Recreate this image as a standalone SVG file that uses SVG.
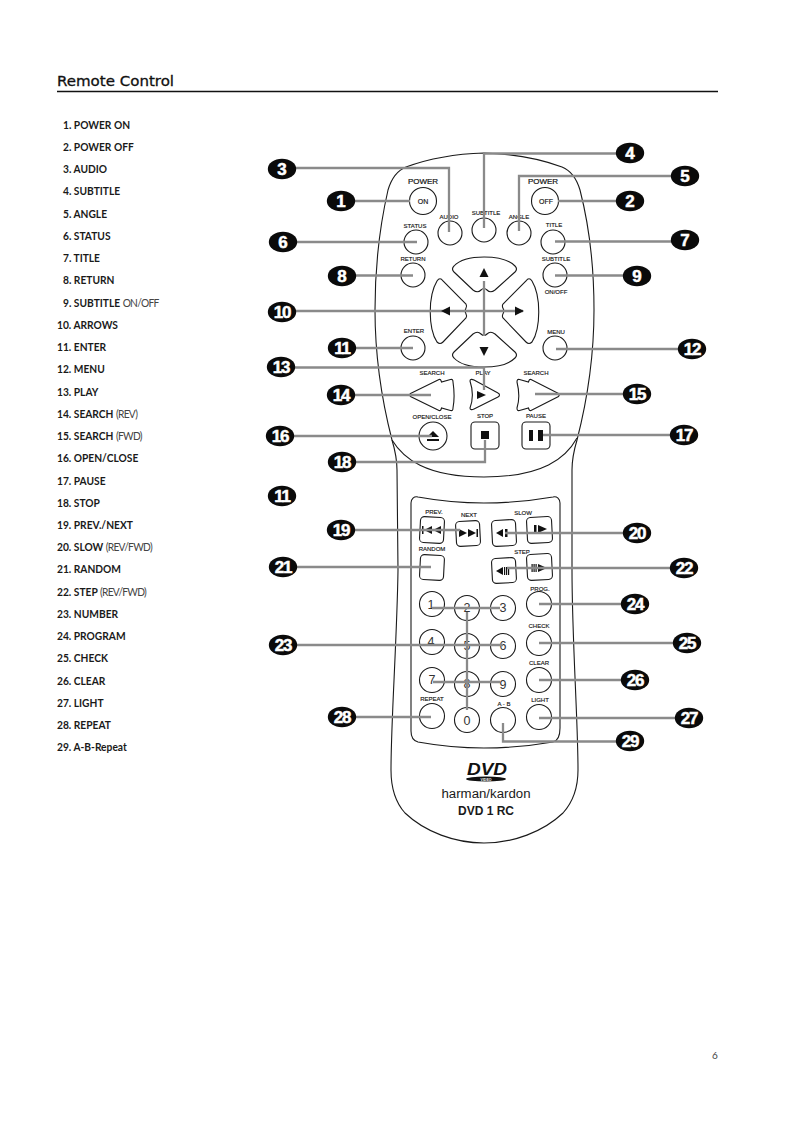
<svg xmlns="http://www.w3.org/2000/svg" width="793" height="1122" viewBox="0 0 793 1122">
<style>
.o{fill:#fff;stroke:#1a1a1a;stroke-width:1.1}
.b{fill:#111}
.l{font-family:"Liberation Sans",Arial,sans-serif;font-size:6px;fill:#111;text-anchor:middle;stroke:#111;stroke-width:.15}
.p{font-size:8px;stroke-width:.2}
.d{font-family:"Liberation Sans",Arial,sans-serif;font-size:12.5px;fill:#333;text-anchor:middle}
.c{fill:none;stroke:#8a8a8a;stroke-width:2.3}
.n{font-family:"Liberation Sans",Arial,sans-serif;font-size:17px;font-weight:bold;fill:#fff;stroke:#fff;stroke-width:.5;text-anchor:middle}
.t{font-family:Lato,"Noto Sans",sans-serif;font-size:11.5px;font-weight:bold;fill:#1a1a1a}
.r{font-weight:normal;fill:#444;letter-spacing:-.8px}
</style>
<defs>
<ellipse id="bd" rx="14.2" ry="10.2" fill="#0a0a0a"/>
</defs>
<rect width="793" height="1122" fill="#fff"/>
<g id="heading">
<text x="57" y="86" font-family="DejaVu Sans,sans-serif" font-size="14.5" fill="#111" stroke="#111" stroke-width=".3" textLength="117" lengthAdjust="spacingAndGlyphs">Remote Control</text>
<line x1="57" y1="91.500" x2="718" y2="91.500" stroke="#111" stroke-width="1.4"/>
</g>
<g id="legend" transform="translate(57 0) scale(.89 1) translate(-57 0)">
<text class="t" x="63.700" y="129">1. POWER ON</text>
<text class="t" x="63.700" y="151">2. POWER OFF</text>
<text class="t" x="63.700" y="173">3. AUDIO</text>
<text class="t" x="63.700" y="195">4. SUBTITLE</text>
<text class="t" x="63.700" y="218">5. ANGLE</text>
<text class="t" x="63.700" y="240">6. STATUS</text>
<text class="t" x="63.700" y="262">7. TITLE</text>
<text class="t" x="63.700" y="284">8. RETURN</text>
<text class="t" x="63.700" y="307">9. SUBTITLE <tspan class="r">ON/OFF</tspan></text>
<text class="t" x="57" y="329">10. ARROWS</text>
<text class="t" x="57" y="351">11. ENTER</text>
<text class="t" x="57" y="373">12. MENU</text>
<text class="t" x="57" y="396">13. PLAY</text>
<text class="t" x="57" y="418">14. SEARCH <tspan class="r">(REV)</tspan></text>
<text class="t" x="57" y="440">15. SEARCH <tspan class="r">(FWD)</tspan></text>
<text class="t" x="57" y="462">16. OPEN/CLOSE</text>
<text class="t" x="57" y="485">17. PAUSE</text>
<text class="t" x="57" y="507">18. STOP</text>
<text class="t" x="57" y="529">19. PREV./NEXT</text>
<text class="t" x="57" y="551">20. SLOW <tspan class="r">(REV/FWD)</tspan></text>
<text class="t" x="57" y="573">21. RANDOM</text>
<text class="t" x="57" y="596">22. STEP <tspan class="r">(REV/FWD)</tspan></text>
<text class="t" x="57" y="618">23. NUMBER</text>
<text class="t" x="57" y="640">24. PROGRAM</text>
<text class="t" x="57" y="662">25. CHECK</text>
<text class="t" x="57" y="685">26. CLEAR</text>
<text class="t" x="57" y="707">27. LIGHT</text>
<text class="t" x="57" y="729">28. REPEAT</text>
<text class="t" x="57" y="751">29. A-B-Repeat</text>
</g>
<g id="remote-body">
<path class="o" d="M484 153C450 154 425 160 406 167C396 171 391 180 388 190C380 225 375 270 375 310C375 360 383 405 392 440C395 450 397 458 397 470L398 570C397 640 391 720 391 770C391 790 396 803 405 813C425 832 455 843 484 843C513 843 543 832 563 813C572 803 578 790 578 770C578 720 572 640 572 570L572 470C572 458 574 450 577 440C586 405 594 360 594 310C594 270 589 225 580 190C577 180 572 171 562 167C543 160 518 154 484 153Z"/>
<path class="o" d="M392 440C403 458 425 477 484 477C543 477 566 458 577 438" style="fill:none"/>
<path class="o" d="M418 497C440 501 460 503 484 503C508 503 530 501 553 497C557 496 560 499 560 503L560 728C560 736 557 741 553 742C530 746 508 748 484 748C460 748 440 746 418 742C414 741 411 737 411 731L411 503C411 499 414 496 418 497Z"/>
</g>
<g id="btn-power-on"><circle class="o" cx="423" cy="201" r="13.500"/><text class="l p" x="423" y="184">POWER</text><text class="l" x="423" y="203.500" style="font-size:7px">ON</text></g>
<g id="btn-power-off"><circle class="o" cx="545" cy="201" r="13.500"/><text class="l p" x="543" y="184">POWER</text><text class="l" x="546" y="203.500" style="font-size:7px">OFF</text></g>
<g id="btn-audio"><circle class="o" cx="450" cy="233" r="12"/><text class="l" x="449" y="219">AUDIO</text></g>
<g id="btn-subtitle"><circle class="o" cx="484" cy="230" r="12"/><text class="l" x="486" y="215">SUBTITLE</text></g>
<g id="btn-angle"><circle class="o" cx="519" cy="233" r="12"/><text class="l" x="519" y="219">ANGLE</text></g>
<g id="btn-status"><circle class="o" cx="416" cy="242" r="12"/><text class="l" x="415" y="228">STATUS</text></g>
<g id="btn-title"><circle class="o" cx="553" cy="242" r="12"/><text class="l" x="554" y="227">TITLE</text></g>
<g id="btn-return"><circle class="o" cx="413" cy="275" r="12"/><text class="l" x="413" y="261">RETURN</text></g>
<g id="btn-subtitle-onoff"><circle class="o" cx="555" cy="275" r="12"/><text class="l" x="556" y="261">SUBTITLE</text><text class="l" x="556" y="294">ON/OFF</text></g>
<g id="btn-enter"><circle class="o" cx="413" cy="348" r="12"/><text class="l" x="414" y="333">ENTER</text></g>
<g id="btn-menu"><circle class="o" cx="555" cy="348" r="12"/><text class="l" x="556" y="334">MENU</text></g>
<g id="btn-arrows">
<path class="o" d="M454 266C465 254 503 254 515 266C517 268 517 270 515 272L495 290C491 293 489 292 487 290C485 288 483 288 481 290C479 292 477 293 473 290L454 272C452 270 452 268 454 266Z"/>
<path class="o" d="M454 358C465 370 503 370 515 358C517 356 517 354 515 352L495 334C491 331 489 332 487 334C485 336 483 336 481 334C479 332 477 331 473 334L454 352C452 354 452 356 454 358Z"/>
<path class="o" d="M437 281C428 296 428 328 437 342C439 344 441 344 443 342L466 318C468 315 465 313 465 311C465 309 468 307 466 304L443 281C441 278 439 278 437 281Z"/>
<path class="o" d="M532 281C541 296 541 328 532 342C530 344 528 344 526 342L503 318C501 315 504 313 504 311C504 309 501 307 503 304L526 281C528 278 530 278 532 281Z"/>
</g>
<g id="btn-search-rev"><path class="o" d="M410.500 393.500L439 379.500C440.500 379 441 380 441.500 382L450.500 379.500C452.500 379 453 380 453 382C454.500 392 454.500 400 453 408C453 410 452.500 411 450.500 410.500L441.500 408C441 410 440.500 411 439 410.500L410.500 396.500C409.500 395.500 409.500 394.500 410.500 393.500Z"/><text class="l" x="432" y="375">SEARCH</text></g>
<g id="btn-play"><path class="o" d="M470 381C470 379 472 379 474 380L498 393C500 394 500 396 498 397L474 409C472 410 470 410 470 408C473 400 473 390 470 381Z"/><polygon class="b" points="477,391 486,395 477,399"/><text class="l" x="483" y="375">PLAY</text></g>
<g id="btn-search-fwd"><path class="o" d="M558.500 393.500L531 379.500C529.500 379 529 380 528.500 382L519.500 379.500C517.500 379 517 380 517 382C519.500 392 519.500 400 517 408C517 410 517.500 411 519.500 410.500L528.500 408C529 410 529.500 411 531 410.500L558.500 396.500C559.500 395.500 559.500 394.500 558.500 393.500Z"/><text class="l" x="536" y="375">SEARCH</text></g>
<g id="btn-open-close"><circle class="o" cx="433" cy="436" r="14"/><polygon class="b" points="433,431 427,437 439,437"/><rect class="b" x="427" y="439" width="12" height="2"/><text class="l" x="432" y="419">OPEN/CLOSE</text></g>
<g id="btn-stop"><rect class="o" x="471" y="422" width="28" height="27" rx="4"/><rect class="b" x="481" y="431" width="8" height="8"/><text class="l" x="485" y="418">STOP</text></g>
<g id="btn-pause"><rect class="o" x="522" y="422" width="28" height="27" rx="4"/><rect class="b" x="529" y="430" width="4" height="11"/><rect class="b" x="538" y="430" width="5" height="11"/><text class="l" x="536" y="418">PAUSE</text></g>
<g id="btn-prev"><rect class="o" x="420" y="517" width="24" height="26" rx="4" transform="rotate(3 432 530)"/><rect class="b" x="422" y="526" width="1.500" height="8"/><polygon class="b" points="424,530 432,526 432,534"/><polygon class="b" points="433,530 441,526 441,534"/><text class="l" x="434" y="514">PREV.</text></g>
<g id="btn-next"><rect class="o" x="456" y="521" width="24" height="25" rx="4" transform="rotate(-3 468 533)"/><rect class="b" x="476.500" y="529" width="1.500" height="8"/><polygon class="b" points="476,533 468,529 468,537"/><polygon class="b" points="467,533 459,529 459,537"/><text class="l" x="469" y="517">NEXT</text></g>
<g id="btn-slow-rev"><rect class="o" x="492" y="520" width="24" height="26" rx="4" transform="rotate(-3 504 533)"/><polygon class="b" points="496,533 503,529 503,537"/><rect class="b" x="505" y="529" width="2.500" height="8"/></g>
<g id="btn-slow-fwd"><rect class="o" x="527" y="517" width="25" height="26" rx="4" transform="rotate(-3 539 530)"/><rect class="b" x="534" y="525" width="2.500" height="8"/><polygon class="b" points="547,529 538,525 538,533"/><text class="l" x="523" y="515">SLOW</text></g>
<g id="btn-random"><rect class="o" x="420" y="555" width="24" height="25" rx="4" transform="rotate(3 432 567)"/><text class="l" x="432" y="551">RANDOM</text></g>
<g id="btn-step-rev"><rect class="o" x="492" y="558" width="24" height="25" rx="4" transform="rotate(-3 504 571)"/><polygon class="b" points="496,571 503,567 503,575"/><rect class="b" x="504" y="567" width="1.200" height="8"/><rect class="b" x="506" y="567" width="1.200" height="8"/><rect class="b" x="508" y="567" width="1.200" height="8"/></g>
<g id="btn-step-fwd"><rect class="o" x="527" y="554" width="25" height="26" rx="4" transform="rotate(-3 539 567)"/><rect class="b" x="531.500" y="564" width="1.200" height="8"/><rect class="b" x="533.500" y="564" width="1.200" height="8"/><rect class="b" x="535.500" y="564" width="1.200" height="8"/><polygon class="b" points="547,568 538,564 538,572"/><text class="l" x="522" y="554">STEP</text></g>
<g id="btn-1"><circle class="o" cx="432" cy="604" r="12.500"/><text class="d" x="431" y="609">1</text></g>
<g id="btn-2"><circle class="o" cx="467" cy="608" r="12.500"/><text class="d" x="467" y="612">2</text></g>
<g id="btn-3"><circle class="o" cx="503" cy="608" r="12.500"/><text class="d" x="503" y="612">3</text></g>
<g id="btn-prog"><circle class="o" cx="539" cy="604" r="12.500"/><text class="l" x="540" y="590.500">PROG.</text></g>
<g id="btn-4"><circle class="o" cx="432" cy="642" r="12.500"/><text class="d" x="431" y="646">4</text></g>
<g id="btn-5"><circle class="o" cx="467" cy="646" r="12.500"/><text class="d" x="467" y="650">5</text></g>
<g id="btn-6"><circle class="o" cx="503" cy="646" r="12.500"/><text class="d" x="503" y="650">6</text></g>
<g id="btn-check"><circle class="o" cx="539" cy="643" r="12.500"/><text class="l" x="539" y="628">CHECK</text></g>
<g id="btn-7"><circle class="o" cx="432" cy="680" r="12.500"/><text class="d" x="432" y="684">7</text></g>
<g id="btn-8"><circle class="o" cx="467" cy="684" r="12.500"/><text class="d" x="467" y="688">8</text></g>
<g id="btn-9"><circle class="o" cx="503" cy="684" r="12.500"/><text class="d" x="503" y="689">9</text></g>
<g id="btn-clear"><circle class="o" cx="539" cy="680" r="12.500"/><text class="l" x="539" y="665">CLEAR</text></g>
<g id="btn-repeat"><circle class="o" cx="432" cy="716" r="12.500"/><text class="l" x="432" y="701">REPEAT</text></g>
<g id="btn-0"><circle class="o" cx="467" cy="720" r="12.500"/><text class="d" x="467" y="725">0</text></g>
<g id="btn-ab"><circle class="o" cx="503" cy="720" r="12.500"/><text class="l" x="504" y="706">A - B</text></g>
<g id="btn-light"><circle class="o" cx="539" cy="717" r="12.500"/><text class="l" x="540" y="702">LIGHT</text></g>
<g id="branding">
<text x="487" y="775" font-family="Liberation Sans,sans-serif" font-size="17" font-weight="bold" font-style="italic" text-anchor="middle" fill="#111" textLength="40" lengthAdjust="spacingAndGlyphs">DVD</text>
<ellipse cx="486" cy="779" rx="20" ry="2.600" fill="#111"/>
<text x="486" y="780.500" font-family="Liberation Sans,sans-serif" font-size="3.500" font-weight="bold" text-anchor="middle" fill="#fff">VIDEO</text>
<text x="486" y="798" font-family="Liberation Sans,sans-serif" font-size="12.500" text-anchor="middle" fill="#1a1a1a" textLength="89" lengthAdjust="spacingAndGlyphs">harman/kardon</text>
<text x="486" y="815" font-family="Liberation Sans,sans-serif" font-size="12" font-weight="bold" text-anchor="middle" fill="#1a1a1a" textLength="56" lengthAdjust="spacingAndGlyphs">DVD 1 RC</text>
</g>
<g id="connectors">
<path class="c" d="M341 201H410"/>
<path class="c" d="M630 201H558"/>
<path class="c" d="M282 168H449V232"/>
<path class="c" d="M630 153.500H484V228"/>
<path class="c" d="M685 176H519V231"/>
<path class="c" d="M283 242H417"/>
<path class="c" d="M685 241.500H555"/>
<path class="c" d="M342 275.500H413"/>
<path class="c" d="M637 275.500H555"/>
<path class="c" d="M282 311H523"/>
<path class="c" d="M484 281V336"/>
<path class="c" d="M342 348H413"/>
<path class="c" d="M692 349H556"/>
<path class="c" d="M281 367.500H484V390"/>
<path class="c" d="M341 395H431"/>
<path class="c" d="M637 394H535"/>
<path class="c" d="M280 436H432"/>
<path class="c" d="M684 435H543"/>
<path class="c" d="M342 462H485V440"/>
<path class="c" d="M341 530H460"/>
<path class="c" d="M637 533H505"/>
<path class="c" d="M283 567H431"/>
<path class="c" d="M684 568H507"/>
<path class="c" d="M283 645H503"/>
<path class="c" d="M432 608H500"/>
<path class="c" d="M433 682H500"/>
<path class="c" d="M467 612V710"/>
<path class="c" d="M637 604H539"/>
<path class="c" d="M687 643H539"/>
<path class="c" d="M637 680H539"/>
<path class="c" d="M689 718H539"/>
<path class="c" d="M342 717H431"/>
<path class="c" d="M630 741.500H503V723"/>
</g>
<g id="arrow-glyphs">
<polygon class="b" points="484,268 479.500,277 488.500,277"/>
<polygon class="b" points="484,356 479.500,347 488.500,347"/>
<polygon class="b" points="441,311 450,306.500 450,315.500"/>
<polygon class="b" points="524,311 515,306.500 515,315.500"/>
</g>
<g id="badge-1"><use href="#bd" x="341" y="201"/><text class="n" x="341" y="207">1</text></g>
<g id="badge-2"><use href="#bd" x="630" y="201"/><text class="n" x="630" y="207">2</text></g>
<g id="badge-3"><use href="#bd" x="282" y="169"/><text class="n" x="282" y="175">3</text></g>
<g id="badge-4"><use href="#bd" x="630" y="153"/><text class="n" x="630" y="159">4</text></g>
<g id="badge-5"><use href="#bd" x="685" y="176"/><text class="n" x="685" y="182">5</text></g>
<g id="badge-6"><use href="#bd" x="283" y="242"/><text class="n" x="283" y="248">6</text></g>
<g id="badge-7"><use href="#bd" x="685" y="240"/><text class="n" x="685" y="246">7</text></g>
<g id="badge-8"><use href="#bd" x="342" y="276"/><text class="n" x="342" y="282">8</text></g>
<g id="badge-9"><use href="#bd" x="637" y="276"/><text class="n" x="637" y="282">9</text></g>
<g id="badge-10"><use href="#bd" x="282" y="312"/><text class="n" x="282" y="318" letter-spacing="-1.200">10</text></g>
<g id="badge-11"><use href="#bd" x="342" y="348"/><text class="n" x="342" y="354" letter-spacing="-1.200">11</text></g>
<g id="badge-12"><use href="#bd" x="692" y="349"/><text class="n" x="692" y="355" letter-spacing="-1.200">12</text></g>
<g id="badge-13"><use href="#bd" x="281" y="367"/><text class="n" x="281" y="373" letter-spacing="-1.200">13</text></g>
<g id="badge-14"><use href="#bd" x="341" y="395"/><text class="n" x="341" y="401" letter-spacing="-1.200">14</text></g>
<g id="badge-15"><use href="#bd" x="637" y="394"/><text class="n" x="637" y="400" letter-spacing="-1.200">15</text></g>
<g id="badge-16"><use href="#bd" x="280" y="436"/><text class="n" x="280" y="442" letter-spacing="-1.200">16</text></g>
<g id="badge-17"><use href="#bd" x="684" y="435"/><text class="n" x="684" y="441" letter-spacing="-1.200">17</text></g>
<g id="badge-18"><use href="#bd" x="342" y="462"/><text class="n" x="342" y="468" letter-spacing="-1.200">18</text></g>
<g id="badge-11b"><use href="#bd" x="282" y="496"/><text class="n" x="282" y="502" letter-spacing="-1.200">11</text></g>
<g id="badge-19"><use href="#bd" x="341" y="530"/><text class="n" x="341" y="536" letter-spacing="-1.200">19</text></g>
<g id="badge-20"><use href="#bd" x="637" y="533"/><text class="n" x="637" y="539" letter-spacing="-1.200">20</text></g>
<g id="badge-21"><use href="#bd" x="283" y="567"/><text class="n" x="283" y="573" letter-spacing="-1.200">21</text></g>
<g id="badge-22"><use href="#bd" x="684" y="568"/><text class="n" x="684" y="574" letter-spacing="-1.200">22</text></g>
<g id="badge-23"><use href="#bd" x="283" y="645"/><text class="n" x="283" y="651" letter-spacing="-1.200">23</text></g>
<g id="badge-24"><use href="#bd" x="635" y="604"/><text class="n" x="635" y="610" letter-spacing="-1.200">24</text></g>
<g id="badge-25"><use href="#bd" x="687" y="643"/><text class="n" x="687" y="649" letter-spacing="-1.200">25</text></g>
<g id="badge-26"><use href="#bd" x="635" y="680"/><text class="n" x="635" y="686" letter-spacing="-1.200">26</text></g>
<g id="badge-27"><use href="#bd" x="689" y="718"/><text class="n" x="689" y="724" letter-spacing="-1.200">27</text></g>
<g id="badge-28"><use href="#bd" x="342" y="717"/><text class="n" x="342" y="723" letter-spacing="-1.200">28</text></g>
<g id="badge-29"><use href="#bd" x="630" y="741"/><text class="n" x="630" y="747" letter-spacing="-1.200">29</text></g>
<text id="page-number" x="712" y="1059" font-family="Lato,sans-serif" font-size="10" fill="#444">6</text>
</svg>
